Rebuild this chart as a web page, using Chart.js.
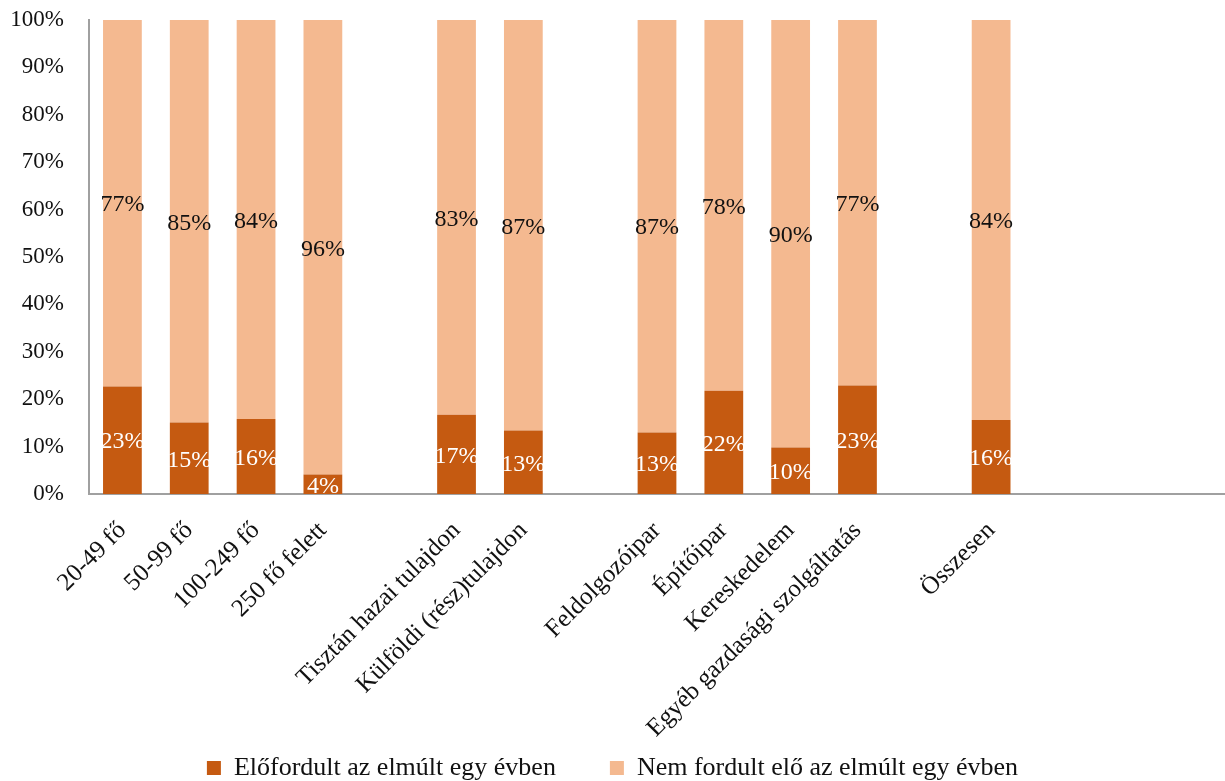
<!DOCTYPE html>
<html>
<head>
<meta charset="utf-8">
<script src="https://cdn.jsdelivr.net/npm/chart.js@4/dist/chart.umd.min.js"></script>
<style>
  html, body { margin: 0; padding: 0; background: #fff; }
  #wrap { width: 1225px; height: 781px; }
</style>
</head>
<body>
<div id="wrap"><canvas id="chart"></canvas></div>
<script>
// Kategóriák (üres címkék = térközök a csoportok között)
const categories = [
  '20-49 fő', '50-99 fő', '100-249 fő', '250 fő felett', '',
  'Tisztán hazai tulajdon', 'Külföldi (rész)tulajdon', '',
  'Feldolgozóipar', 'Építőipar', 'Kereskedelem', 'Egyéb gazdasági szolgáltatás', '',
  'Összesen', '', '', ''
];

// Előfordult az elmúlt egy évben (%)
const occurred = [22.7, 15.1, 15.8, 4.1, null, 16.7, 13.4, null, 13.0, 21.8, 9.8, 22.9, null, 15.6, null, null, null];

// Nem fordult elő az elmúlt egy évben (%)
const notOccurred = [77.3, 84.9, 84.2, 95.9, null, 83.3, 86.6, null, 87.0, 78.2, 90.2, 77.1, null, 84.4, null, null, null];

const yTicks = [0, 10, 20, 30, 40, 50, 60, 70, 80, 90, 100];

const serif = '"Liberation Serif", "DejaVu Serif", serif';

// Százalékos feliratok a szegmensek közepén
const segmentLabels = {
  id: 'segmentLabels',
  afterDatasetsDraw(chart) {
    const ctx = chart.ctx;
    ctx.save();
    ctx.font = '24px ' + serif;
    ctx.textAlign = 'center';
    ctx.textBaseline = 'middle';
    chart.data.datasets.forEach((ds, i) => {
      const meta = chart.getDatasetMeta(i);
      ctx.fillStyle = i === 0 ? '#ffffff' : '#111111';
      meta.data.forEach((bar, j) => {
        const v = ds.data[j];
        if (v == null) return;
        const yMid = (bar.y + bar.base) / 2;
        ctx.fillText(Math.round(v) + '%', bar.x, yMid + 2);
      });
    });
    ctx.restore();
  }
};

const ctx = document.getElementById('chart').getContext('2d');
new Chart(ctx, {
  type: 'bar',
  data: {
    labels: categories,
    datasets: [
      {
        label: 'Előfordult az elmúlt egy évben',
        data: occurred,
        backgroundColor: '#C55A11',
        categoryPercentage: 1,
        barPercentage: 0.58
      },
      {
        label: 'Nem fordult elő az elmúlt egy évben',
        data: notOccurred,
        backgroundColor: '#F4B990',
        categoryPercentage: 1,
        barPercentage: 0.58
      }
    ]
  },
  options: {
    responsive: true,
    maintainAspectRatio: false,
    animation: false,
    layout: { padding: 0 },
    plugins: {
      legend: {
        position: 'bottom',
        maxHeight: 80,
        labels: {
          boxWidth: 14,
          boxHeight: 14,
          padding: 54,
          color: '#111',
          font: { family: serif, size: 26 }
        }
      },
      tooltip: { enabled: false }
    },
    scales: {
      x: {
        stacked: true,
        grid: { display: false },
        border: { display: true, color: '#A0A0A0', width: 2 },
        afterFit(scale) {
          scale.height = 207;
          scale.paddingLeft = 0;
          scale.paddingRight = 0;
          // a hosszú ferde címkék lelóghatnak a tengely dobozáról
          scale._computeLabelArea = function () {
            return { top: this.top, left: 0, bottom: this.chart.height, right: this.chart.width };
          };
        },
        ticks: {
          autoSkip: false,
          minRotation: 45,
          maxRotation: 45,
          padding: 14,
          color: '#111',
          font: { family: serif, size: 25 }
        }
      },
      y: {
        stacked: true,
        min: 0,
        max: 100,
        afterBuildTicks(axis) {
          axis.ticks = yTicks.map(v => ({ value: v }));
        },
        afterFit(scale) {
          scale.width = 89;
          scale.paddingTop = 20;
          scale.paddingBottom = 0;
        },
        grid: { display: false, drawTicks: false },
        border: { display: true, color: '#A0A0A0', width: 2 },
        ticks: {
          padding: 25,
          color: '#111',
          font: { family: serif, size: 23 },
          callback: v => v + '%'
        }
      }
    }
  },
  plugins: [segmentLabels]
});
</script>
</body>
</html>
